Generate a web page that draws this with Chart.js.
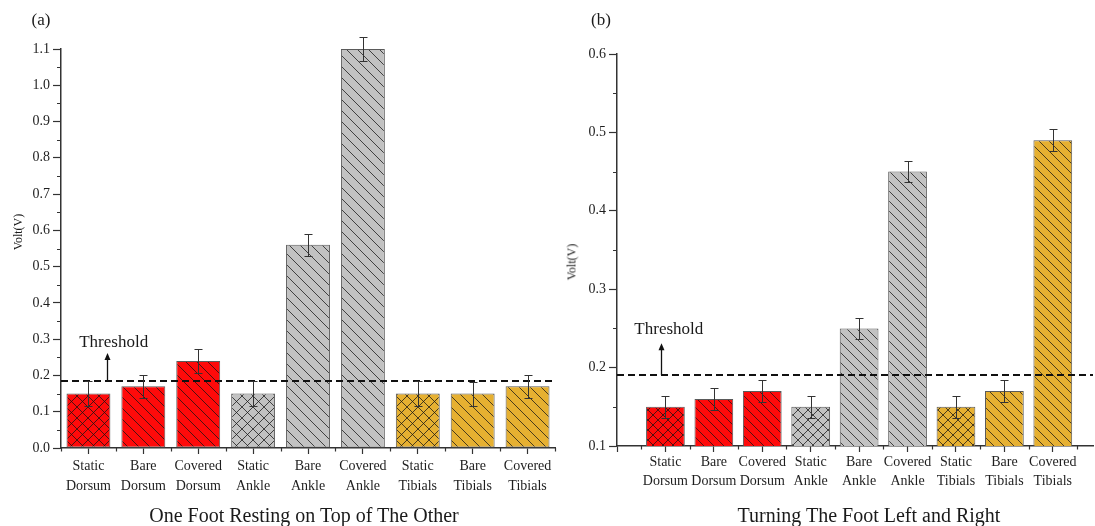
<!DOCTYPE html>
<html>
<head>
<meta charset="utf-8">
<title>Volt bars</title>
<script src="https://cdn.jsdelivr.net/npm/chart.js@4.4.1/dist/chart.umd.min.js"></script>
<style>
  html, body { margin: 0; padding: 0; background: #fff; }
  body { width: 1095px; height: 526px; position: relative; overflow: hidden;
         font-family: "Liberation Serif", "DejaVu Serif", serif; color: #1a1a1a; }
  canvas { position: absolute; top: 0; }
  #chartA { left: 0; }
  #chartB { left: 548px; }
  .txt { position: absolute; white-space: nowrap; transform: translate(-50%, -50%); }
  .ytitle { position: absolute; white-space: nowrap; font-size: 12px;
            transform: translate(-50%, -50%) rotate(-90deg); }
</style>
</head>
<body>
<canvas id="chartA" width="560" height="526"></canvas>
<canvas id="chartB" width="547" height="526"></canvas>

<div class="txt" style="left:41px; top:20px; font-size:17px;">(a)</div>
<div class="txt" style="left:601px; top:20px; font-size:17px;">(b)</div>
<div class="ytitle" style="left:18px; top:232px;">Volt(V)</div>
<div class="ytitle" style="left:572px; top:262px;">Volt(V)</div>
<div class="txt" style="left:304px; top:515px; font-size:20px;">One Foot Resting on Top of The Other</div>
<div class="txt" style="left:869px; top:515px; font-size:20px;">Turning The Foot Left and Right</div>

<script>
// categories (two-line tick labels)
const categories = [
  ["Static", "Dorsum"], ["Bare", "Dorsum"], ["Covered", "Dorsum"],
  ["Static", "Ankle"], ["Bare", "Ankle"], ["Covered", "Ankle"],
  ["Static", "Tibials"], ["Bare", "Tibials"], ["Covered", "Tibials"],
];

// (a) One Foot Resting on Top of The Other
const valuesA = [0.15, 0.17, 0.24, 0.15, 0.56, 1.10, 0.15, 0.15, 0.17];
const errorsA = [0.035, 0.032, 0.032, 0.034, 0.030, 0.032, 0.035, 0.033, 0.032];
const thresholdA = 0.185;
const yTicksA = [0, 0.1, 0.2, 0.3, 0.4, 0.5, 0.6, 0.7, 0.8, 0.9, 1.0, 1.1];

// (b) Turning The Foot Left and Right
const valuesB = [0.15, 0.16, 0.17, 0.15, 0.25, 0.45, 0.15, 0.17, 0.49];
const errorsB = [0.014, 0.014, 0.014, 0.014, 0.013, 0.013, 0.014, 0.014, 0.014];
const thresholdB = 0.19;
const yTicksB = [0.1, 0.2, 0.3, 0.4, 0.5, 0.6];

const FONT = "'Liberation Serif', 'DejaVu Serif', serif";
const AXIS = "#333";
const groupColors = { Dorsum: "#ff0a0a", Ankle: "#c2c2c2", Tibials: "#e6b031" };

function hatch(bg, cross, size) {
  const c = document.createElement("canvas");
  c.width = size;
  c.height = size;
  const g = c.getContext("2d");
  g.fillStyle = bg;
  g.fillRect(0, 0, size, size);
  g.strokeStyle = "rgba(20, 20, 20, 0.75)";
  g.lineWidth = 1;
  g.beginPath();
  g.moveTo(-2, -2);
  g.lineTo(size + 2, size + 2);
  if (cross) {
    g.moveTo(-2, size + 2);
    g.lineTo(size + 2, -2);
  }
  g.stroke();
  return g.createPattern(c, "repeat");
}

function fills(size) {
  return categories.map(([kind, group]) => hatch(groupColors[group], kind === "Static", size));
}

const decorPlugin = {
  id: "decor",
  afterDatasetsDraw(chart, args, o) {
    const ctx = chart.ctx;
    const xs = chart.scales.x;
    const ys = chart.scales.y;
    const area = chart.chartArea;
    const meta = chart.getDatasetMeta(0);

    // threshold dashed line
    const ty = Math.round(ys.getPixelForValue(o.threshold));
    ctx.save();
    ctx.strokeStyle = "#111";
    ctx.lineWidth = 2;
    ctx.setLineDash([7, 4]);
    ctx.beginPath();
    ctx.moveTo(area.left, ty);
    ctx.lineTo(area.right, ty);
    ctx.stroke();
    ctx.setLineDash([]);

    // error bars
    ctx.strokeStyle = "#333";
    ctx.lineWidth = 1;
    o.values.forEach((v, i) => {
      const e = o.errors[i];
      const x = Math.round(meta.data[i].x) + 0.5;
      const t = Math.round(ys.getPixelForValue(v + e)) + 0.5;
      const b = Math.round(ys.getPixelForValue(v - e)) + 0.5;
      ctx.beginPath();
      ctx.moveTo(x, t); ctx.lineTo(x, b);
      ctx.moveTo(x - 4, t); ctx.lineTo(x + 4, t);
      ctx.moveTo(x - 4, b); ctx.lineTo(x + 4, b);
      ctx.stroke();
    });

    // threshold arrow and label
    const ax = Math.round(xs.getPixelForValue(o.arrowX)) + 0.5;
    const atop = ys.getPixelForValue(o.arrowTop);
    ctx.strokeStyle = "#111";
    ctx.fillStyle = "#111";
    ctx.lineWidth = 1.3;
    ctx.beginPath();
    ctx.moveTo(ax, ty);
    ctx.lineTo(ax, atop + 5);
    ctx.stroke();
    ctx.beginPath();
    ctx.moveTo(ax, atop);
    ctx.lineTo(ax - 3, atop + 7);
    ctx.lineTo(ax + 3, atop + 7);
    ctx.closePath();
    ctx.fill();
    ctx.font = "17px " + FONT;
    ctx.textAlign = "center";
    ctx.textBaseline = "middle";
    ctx.fillStyle = "#1a1a1a";
    ctx.fillText("Threshold", xs.getPixelForValue(o.labelX), ys.getPixelForValue(o.labelY));
    ctx.restore();
  },
  afterDraw(chart) {
    const ctx = chart.ctx;
    const xs = chart.scales.x;
    const ys = chart.scales.y;
    ctx.save();
    ctx.strokeStyle = AXIS;
    ctx.lineWidth = 1.2;
    ctx.beginPath();
    // minor x ticks between categories
    for (let k = Math.ceil(xs.min - 0.5); k + 0.5 <= xs.max + 1e-6; k++) {
      const x = Math.round(xs.getPixelForValue(k + 0.5)) + 0.5;
      ctx.moveTo(x, ys.bottom);
      ctx.lineTo(x, ys.bottom + 3.5);
    }
    // minor y ticks halfway between labelled ticks
    for (let v = ys.min + 0.05; v < ys.max; v += 0.1) {
      const y = Math.round(ys.getPixelForValue(v)) + 0.5;
      ctx.moveTo(xs.left, y);
      ctx.lineTo(xs.left - 4, y);
    }
    ctx.stroke();
    ctx.restore();
  },
};

function makeChart(id, cfg) {
  const canvas = document.getElementById(id);
  return new Chart(canvas.getContext("2d"), {
    type: "bar",
    data: {
      datasets: [{
        data: cfg.values.map((v, i) => ({ x: i, y: v })),
        backgroundColor: fills(cfg.hatchSize),
        borderColor: "#5a5a5a",
        borderWidth: 1,
        borderSkipped: false,
        categoryPercentage: 1,
        barPercentage: 0.8,
      }],
    },
    options: {
      responsive: false,
      animation: false,
      events: [],
      layout: { padding: { top: cfg.top, right: cfg.right, left: 0, bottom: 0 } },
      plugins: {
        legend: { display: false },
        tooltip: { enabled: false },
        decor: {
          values: cfg.values,
          errors: cfg.errors,
          threshold: cfg.threshold,
          arrowX: cfg.arrowX,
          arrowTop: cfg.arrowTop,
          labelX: cfg.labelX,
          labelY: cfg.labelY,
        },
      },
      scales: {
        x: {
          type: "linear",
          offset: false,
          min: cfg.xMin,
          max: cfg.xMax,
          afterBuildTicks(scale) {
            const t = [];
            for (let i = Math.ceil(cfg.xMin); i < categories.length; i++) t.push({ value: i });
            scale.ticks = t;
          },
          afterFit(scale) { scale.height = cfg.xHeight; },
          grid: { offset: false, drawOnChartArea: false, drawTicks: true, tickLength: 6, tickColor: AXIS, tickWidth: 1.2 },
          border: { color: AXIS, width: 1.5 },
          ticks: {
            autoSkip: false,
            maxRotation: 0,
            padding: cfg.xPad,
            color: "#1e1e1e",
            font: { family: FONT, size: 14, lineHeight: cfg.lineHeight },
            callback(value) {
              return categories[value] || "";
            },
          },
        },
        y: {
          type: "linear",
          min: cfg.yTicks[0],
          max: cfg.yTicks[cfg.yTicks.length - 1],
          afterBuildTicks(scale) {
            scale.ticks = cfg.yTicks.map((v) => ({ value: v }));
          },
          afterFit(scale) { scale.width = cfg.yWidth; },
          grid: { drawOnChartArea: false, drawTicks: true, tickLength: 8, tickColor: AXIS, tickWidth: 1.2 },
          border: { color: AXIS, width: 1.5 },
          ticks: {
            padding: 3,
            color: "#1e1e1e",
            font: { family: FONT, size: 14 },
            callback(value) {
              return Number(value).toFixed(1);
            },
          },
        },
      },
    },
    plugins: [decorPlugin],
  });
}

makeChart("chartA", {
  values: valuesA, errors: errorsA, threshold: thresholdA, yTicks: yTicksA,
  xMin: -0.5, xMax: 8.5, hatchSize: 11,
  top: 49, right: 5, yWidth: 61, xHeight: 78, xPad: 2, lineHeight: 1.43,
  arrowX: 0.34, arrowTop: 0.262, labelX: 0.46, labelY: 0.29,
});

makeChart("chartB", {
  values: valuesB, errors: errorsB, threshold: thresholdB, yTicks: yTicksB,
  xMin: -1, xMax: 8.83, hatchSize: 10,
  top: 54, right: 2, yWidth: 69, xHeight: 80, xPad: 1, lineHeight: 1.33,
  arrowX: -0.1, arrowTop: 0.231, labelX: 0.07, labelY: 0.248,
});
</script>
</body>
</html>
